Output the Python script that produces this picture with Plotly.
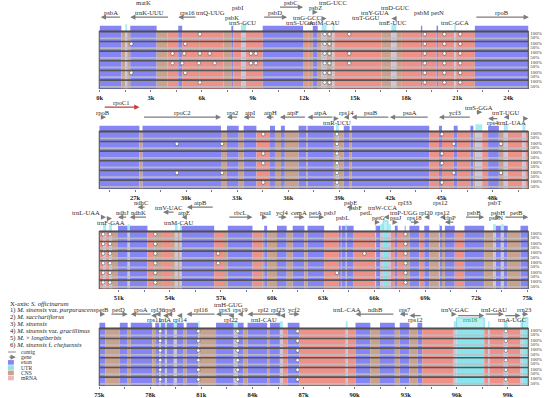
import plotly.graph_objects as go

W, H = 550, 398
FONT = "Liberation Serif, Times New Roman, serif"

# ---------------- data ----------------
panel_ranges = [(-0.03, 25.17), (24.9, 50.1), (49.85, 75.05), (75.0, 100.2)]

# region boundaries (kb) and region types: E exon, U UTR/rRNA, T CNS, S mRNA, G tRNA
p1_edges = [0.0, 1.27, 1.50, 1.61, 1.79, 3.34, 3.98, 4.61, 4.84, 5.71, 5.88, 7.27, 7.73, 7.84, 8.30, 8.59,
            9.57, 11.94, 12.11, 12.28, 12.51, 12.80, 13.03, 13.32, 13.67, 13.78, 16.55, 17.13, 17.42, 17.70,
            18.86, 18.94, 19.78, 19.87, 20.82, 20.93, 22.03, 25.20]
p1_types = ["E", "T", "G", "T", "E", "T", "S", "E", "S", "T", "S", "T", "E", "S", "G", "S", "E", "T", "S",
            "T", "E", "T", "G", "T", "G", "S", "T", "G", "T", "S", "E", "S", "E", "S", "G", "S", "E"]

p2_edges = [24.90, 27.26, 27.44, 32.05, 32.40, 33.09, 33.38, 34.13, 34.93, 35.22, 35.57, 35.80, 36.61, 37.07,
            37.13, 38.68, 38.80, 38.97, 39.26, 39.61, 39.72, 44.28, 44.85, 45.03, 45.72, 45.95, 46.70, 46.87,
            46.99, 47.39, 47.74, 48.37, 48.66, 48.89, 49.76, 49.93, 50.10]
p2_types = ["E", "T", "E", "T", "E", "T", "E", "S", "E", "T", "E", "T", "E", "T", "E", "T", "G", "T", "E",
            "T", "E", "S", "E", "S", "E", "S", "E", "T", "G", "S", "E", "T", "G", "S", "G", "S"]

p3_edges = [49.85, 50.08, 50.25, 50.43, 50.60, 50.95, 51.52, 51.64, 52.68, 53.08, 53.54, 54.12, 54.29, 54.46,
            54.58, 54.69, 56.60, 57.12, 57.40, 58.85, 59.42, 59.54, 59.71, 60.29, 60.86, 61.21, 61.90, 62.08,
            63.06, 63.92, 64.04, 64.09, 64.33, 64.38, 64.79, 66.06, 66.11, 66.34, 66.52, 66.81, 66.98, 67.21,
            67.38, 67.79, 67.84, 68.07, 68.65, 68.94, 69.23, 69.80, 69.86, 69.98, 70.15, 70.73, 71.30, 72.46,
            72.98, 73.15, 73.44, 73.61, 73.84, 74.59, 75.05]
p3_types = ["S", "G", "S", "G", "T", "E", "G", "E", "S", "T", "S", "T", "G", "T", "G", "E", "S", "T", "E",
            "S", "T", "E", "T", "E", "T", "E", "T", "E", "S", "E", "S", "E", "G", "E", "S", "G", "E", "G",
            "U", "G", "S", "E", "S", "E", "T", "E", "S", "E", "T", "G", "E", "T", "E", "S", "E", "T", "G",
            "E", "G", "E", "T", "E"]

p4_edges = [75.00, 75.35, 76.21, 76.67, 76.85, 78.11, 78.29, 78.52, 78.63, 78.86, 78.98, 79.38, 79.56, 79.96,
            80.13, 80.82, 80.88, 81.86, 82.90, 83.13, 83.48, 83.71, 84.86, 85.03, 85.61, 85.78, 86.07, 86.76,
            89.48, 89.59, 90.05, 90.92, 91.49, 92.36, 92.65, 93.22, 93.69, 93.97, 95.82, 95.99, 97.61, 97.84,
            97.92, 98.76, 98.99, 99.74, 99.86, 100.20]
p4_types = ["E", "T", "E", "T", "E", "T", "E", "G", "E", "G", "E", "G", "E", "T", "E", "G", "T", "E", "G",
            "E", "T", "E", "T", "E", "G", "S", "E", "S", "G", "S", "E", "T", "E", "T", "E", "T", "E", "S",
            "G", "U", "S", "G", "S", "G", "S", "G", "U"]

# genes: name, start kb, end kb, strand, label tier, label anchor
p1_genes = [
    ("psbA", 0.06, 1.27, -1, 2, "c"), ("matK", 1.79, 3.34, 0, 4, "c"), ("trnK-UUU", 1.79, 4.10, -1, 2, "c"),
    ("rps16", 4.61, 5.71, -1, 2, "c"), ("trnQ-UUG", 7.50, 7.61, -1, 2, "L"), ("psbK", 7.73, 7.84, 1, 1, "c"),
    ("psbI", 8.05, 8.15, 1, 3, "c"), ("trnS-GCU", 8.30, 8.42, -1, 0, "c"), ("psbD", 9.57, 11.00, 1, 2, "c"),
    ("psbC", 10.50, 11.94, 1, 4, "c"), ("trnS-UGA", 11.70, 11.80, -1, 0, "c"),
    ("trnG-GCC", 12.11, 12.20, 1, 1, "c"), ("psbZ", 12.51, 12.80, 1, 3, "c"),
    ("trnG-UCC", 13.67, 13.78, -1, 4, "c"), ("trnfM-CAU", 13.03, 13.32, 1, 0, "c"),
    ("trnT-GGU", 16.55, 16.62, 1, 1, "L"), ("trnY-GUA", 17.13, 17.25, -1, 2, "L"),
    ("trnD-GUC", 17.30, 17.42, -1, 3, "c"), ("trnE-UUC", 17.13, 17.30, -1, 0, "c"),
    ("psbM", 18.86, 18.94, 1, 2, "c"), ("petN", 19.78, 19.87, 1, 2, "c"),
    ("trnC-GCA", 20.82, 20.93, 1, 0, "c"), ("rpoB", 22.03, 25.20, 1, 2, "c"),
]
p2_genes = [
    ("rpoB", 24.90, 25.30, 1, 2, "c"), ("rpoC1", 25.13, 27.26, 1, 4, "c"), ("rpoC2", 27.44, 32.05, 1, 2, "c"),
    ("rps2", 32.40, 33.09, -1, 2, "c"), ("atpI", 33.38, 34.13, -1, 2, "c"), ("atpH", 34.70, 35.22, -1, 2, "c"),
    ("atpF", 35.51, 37.07, -1, 2, "c"), ("atpA", 37.13, 38.68, -1, 2, "c"),
    ("trnR-UCU", 38.80, 38.97, 1, 0, "c"), ("rps14", 39.26, 39.61, -1, 2, "c"),
    ("psaB", 39.72, 41.97, -1, 2, "c"), ("psaA", 41.97, 44.28, -1, 2, "c"), ("ycf3", 44.85, 46.76, -1, 2, "c"),
    ("trnS-GGA", 46.99, 47.39, 1, 3, "c"), ("rps4", 47.74, 48.37, -1, 0, "c"),
    ("trnT-UGU", 48.66, 48.89, -1, 2, "c"), ("trnL-UAA", 49.76, 50.10, 1, 0, "E"),
]
p3_genes = [
    ("trnL-UAA", 50.08, 50.25, 1, 2, "L"), ("trnF-GAA", 50.43, 50.60, 1, 0, "c"),
    ("ndhJ", 50.95, 51.52, -1, 2, "c"), ("ndhK", 51.64, 52.68, -1, 2, "c"), ("ndhC", 52.10, 52.60, -1, 4, "c"),
    ("trnV-UAC", 53.60, 54.30, -1, 3, "c"), ("atpE", 54.69, 55.00, -1, 2, "c"),
    ("trnM-CAU", 54.46, 54.58, 1, 0, "c"), ("atpB", 55.00, 56.60, -1, 4, "c"),
    ("rbcL", 57.40, 58.85, 1, 2, "c"), ("psaI", 59.54, 59.71, 1, 2, "c"), ("ycf4", 60.29, 60.86, 1, 2, "c"),
    ("cemA", 61.21, 61.90, 1, 2, "c"), ("petA", 62.08, 63.06, 1, 2, "c"), ("psbJ", 63.92, 64.04, -1, 2, "L"),
    ("psbL", 64.09, 64.20, -1, 1, "c"), ("psbF", 64.20, 64.33, -1, 3, "R"), ("psbE", 64.38, 64.79, -1, 4, "c"),
    ("petL", 66.06, 66.11, 1, 2, "L"), ("petG", 66.11, 66.34, 1, 1, "c"),
    ("trnW-CCA", 66.40, 66.52, -1, 3, "c"), ("trnP-UGG", 66.56, 66.75, -1, 2, "R"),
    ("psaJ", 67.21, 67.38, 1, 1, "c"), ("rpl33", 67.79, 67.84, 1, 4, "c"), ("rps18", 68.07, 68.65, 1, 1, "c"),
    ("rpl20", 68.94, 69.23, -1, 2, "c"), ("rps12", 69.86, 69.98, -1, 4, "c"), ("rps12", 69.86, 70.15, -1, 2, "c"),
    ("clpP", 70.15, 70.73, -1, 1, "c"), ("psbB", 71.30, 72.46, 1, 2, "c"), ("psbT", 72.98, 73.10, 1, 4, "c"),
    ("psbN", 73.10, 73.15, -1, 1, "c"), ("psbH", 73.15, 73.44, 1, 2, "c"), ("petB", 73.61, 75.05, 1, 2, "c"),
]
p4_genes = [
    ("petB", 75.00, 75.35, 1, 2, "c"), ("petD", 75.63, 76.67, 1, 2, "c"), ("rpoA", 76.85, 78.11, -1, 2, "c"),
    ("rps11", 78.05, 78.40, -1, 0, "c"), ("rpl36", 78.29, 78.69, -1, 2, "c"), ("infA", 78.75, 79.00, -1, 0, "c"),
    ("rps8", 78.98, 79.38, -1, 2, "c"), ("rpl14", 79.56, 79.96, -1, 0, "c"), ("rpl16", 80.13, 81.86, -1, 2, "c"),
    ("rps3", 81.86, 82.90, -1, 2, "c"), ("rpl22", 82.60, 82.90, -1, 0, "c"),
    ("trnH-GUG", 83.60, 83.70, 1, 3, "L"), ("rps19", 83.13, 83.48, -1, 2, "c"),
    ("rpl2", 83.71, 85.61, -1, 2, "c"), ("rpl23", 85.32, 85.73, -1, 2, "c"),
    ("trnI-CAU", 85.61, 85.78, -1, 0, "L"), ("ycf2", 86.07, 86.76, 1, 2, "c"),
    ("trnL-CAA", 89.48, 89.59, -1, 2, "c"), ("ndhB", 90.05, 92.36, -1, 2, "c"), ("rps7", 92.65, 93.22, -1, 2, "c"),
    ("rps12", 93.22, 93.97, -1, 0, "c"), ("trnV-GAC", 95.82, 95.99, 1, 2, "c"),
    ("rrn16", 95.99, 97.61, 1, 0, "c"), ("trnI-GAU", 97.61, 98.76, 1, 2, "c"),
    ("trnA-UGC", 98.76, 99.74, 1, 0, "c"), ("rrn23", 99.74, 100.20, 1, 2, "c"),
]

# conservation dips (kb) per track 1..6
p1_dips = [[5.88, 13.21, 13.49, 14.65, 19.09, 20.24, 21.17],
           [1.85, 5.02, 13.21, 13.49, 19.09, 20.24, 21.17],
           [4.27, 4.96, 5.88, 6.46, 8.88, 9.17, 13.21, 13.49, 14.65, 19.09, 20.24, 21.17],
           [4.27, 4.84, 5.82, 6.75, 8.88, 9.17, 13.21, 13.49, 14.65, 19.09, 20.24, 21.17],
           [1.85, 5.02, 13.21, 13.49, 19.09, 20.24, 21.17],
           [5.88, 13.21, 13.49, 19.09, 20.24, 21.17]]
p2_dips = [[34.53, 38.86, 45.03], [29.46, 32.11, 38.86, 45.72, 48.49], [34.53, 38.86, 45.03],
           [34.53, 38.86, 45.03], [29.46, 32.11, 38.86, 45.72, 48.49], [34.53, 38.86, 45.03]]
p3_dips = [[50.08, 50.48, 53.14, 67.84], [50.08, 50.48, 53.14, 67.84],
           [50.08, 50.48, 53.14, 56.83, 65.42, 67.84], [50.08, 50.48, 53.14, 56.83, 67.84],
           [50.08, 50.48, 53.14, 63.81, 67.84], [50.08, 50.48, 53.14, 67.84]]
p4_dips = [[78.58, 80.82, 83.13, 86.65, 98.88]] * 6

species = ["X-axis: <i>S. officinarum</i>",
           "1) <i>M. sinensis</i> var. <i>purpurascens</i>",
           "2) <i>M. sacchariflorus</i>",
           "3) <i>M. sinensis</i>",
           "4) <i>M. sinensis</i> var. <i>gracillimus</i>",
           "5) <i>M.</i> × <i>longiberbis</i>",
           "6) <i>M. sinensis</i> f. <i>chejuensis</i>"]
legend_keys = ["contig", "gene", "exon", "UTR", "CNS", "mRNA"]

all_edges = [p1_edges, p2_edges, p3_edges, p4_edges]
all_types = [p1_types, p2_types, p3_types, p4_types]
all_genes = [p1_genes, p2_genes, p3_genes, p4_genes]
all_dips = [p1_dips, p2_dips, p3_dips, p4_dips]

# ---------------- styling ----------------
COLORS = {"E": "#8585f3", "S": "#ee9189", "T": "#c9a18d", "G": "#cbc6d9", "U": "#8be4ec"}
LEGEND_COLORS = {"exon": "#8585f3", "UTR": "#8be4ec", "CNS": "#c9a18d", "mRNA": "#ebb8bb"}
X0, X1 = 96, 533
TRACK_TOP = [31, 131, 231, 328]
TRACK_PX = 58
UNIT = TRACK_PX / 6
Y_TOP = [-3.2, -3.2, -3.2, -2.6]
ROW_Y = [-0.85, -1.37, -1.89, -2.41, -2.93]

fig = go.Figure()
annotations = []
shapes = []
layout_axes = {}

for k in range(4):
    sfx = "" if k == 0 else str(k + 1)
    xa, ya = "x" + sfx, "y" + sfx
    lo, hi = panel_ranges[k]
    e, t = all_edges[k], all_types[k]
    starts, ends = e[:-1], e[1:]
    mids = [(a + b) / 2 for a, b in zip(starts, ends)]
    widths = [b - a for a, b in zip(starts, ends)]

    # conservation bands
    fig.add_trace(go.Bar(x=mids, y=[6] * len(mids), base=[0] * len(mids), width=widths,
                         marker=dict(color=[COLORS[c] for c in t], line=dict(width=0)),
                         xaxis=xa, yaxis=ya, showlegend=False, hoverinfo="skip"))

    # annotation row (exons, UTR, tRNA)
    ax_, ah, ab, aw, ac, alw = [], [], [], [], [], []
    for m, wdt, c in zip(mids, widths, t):
        if c == "E":
            ax_.append(m); ah.append(0.55); ab.append(-0.55); aw.append(wdt); ac.append(COLORS["E"]); alw.append(0)
        elif c == "U":
            ax_.append(m); ah.append(1.05); ab.append(-1.05); aw.append(wdt); ac.append("#b8f2f6"); alw.append(0.8)
        elif c == "G":
            ax_.append(m); ah.append(0.7); ab.append(-0.7); aw.append(max(wdt, 0.07)); ac.append("#a9ebf2"); alw.append(0)
    fig.add_trace(go.Bar(x=ax_, y=ah, base=ab, width=aw,
                         marker=dict(color=ac, line=dict(width=alw, color="#6fd3e0")),
                         xaxis=xa, yaxis=ya, showlegend=False, hoverinfo="skip"))

    # track separator (100%) lines and 50% bands
    lx, ly, gx, gy = [], [], [], []
    for i in range(6):
        lx += [lo, hi, None]; ly += [i + 0.08, i + 0.08, None]
        gx += [lo, hi, None]; gy += [i + 0.77, i + 0.77, None]
    fig.add_trace(go.Scatter(x=gx, y=gy, mode="lines", line=dict(color="rgba(190,190,195,0.85)", width=1.7),
                             xaxis=xa, yaxis=ya, showlegend=False, hoverinfo="skip"))
    fig.add_trace(go.Scatter(x=lx, y=ly, mode="lines", line=dict(color="#555555", width=1.6),
                             xaxis=xa, yaxis=ya, showlegend=False, hoverinfo="skip"))

    # dips
    dx, dy = [], []
    for i, lst in enumerate(all_dips[k]):
        dx += lst
        dy += [i + 0.33] * len(lst)
    fig.add_trace(go.Scatter(x=dx, y=dy, mode="markers",
                             marker=dict(symbol="circle", size=3.6, color="white",
                                         line=dict(color="#555555", width=0.6)),
                             xaxis=xa, yaxis=ya, showlegend=False, hoverinfo="skip"))

    # frame
    shapes.append(dict(type="rect", xref=xa + " domain", yref=ya, x0=0, x1=1, y0=0, y1=6,
                       line=dict(color="#4a4a4a", width=1), layer="above"))

    # genes
    for name, s, en, strand, row, anc in all_genes[k]:
        ty = ROW_Y[row]
        if anc == "c":
            tx, xanc = (s + en) / 2, "center"
        elif anc == "L":
            tx, xanc = s - 0.05, "right"
        elif anc == "R":
            tx, xanc = en + 0.05, "left"
        else:
            tx, xanc = en, "right"
        col = "#1f9a3d" if name == "rrn16" else "#2b2b2b"
        annotations.append(dict(x=tx, y=ty, xref=xa, yref=ya, text=name, showarrow=False,
                                xanchor=xanc, yanchor="middle",
                                font=dict(size=6.6, family=FONT, color=col)))
        if strand != 0:
            ay = ty + 0.46 if row > 0 else ty - 0.44
            head, tail = (en, s) if strand > 0 else (s, en)
            acol = "#c83c3c" if name == "rpoC1" else "#7c7c7c"
            annotations.append(dict(x=head, y=ay, ax=tail, ay=ay, xref=xa, yref=ya, axref=xa, ayref=ya,
                                    text="", showarrow=True, arrowhead=2, arrowsize=0.8, arrowwidth=1.3,
                                    arrowcolor=acol, standoff=0, startstandoff=0))

    top_px = TRACK_TOP[k] + Y_TOP[k] * UNIT
    bot_px = TRACK_TOP[k] + TRACK_PX
    tv, tt = [], []
    for i in range(6):
        tv += [i + 0.25, i + 0.68]
        tt += ["100%", "50%"]
    layout_axes["xaxis" + sfx] = dict(
        domain=[X0 / W, X1 / W], range=[lo, hi], anchor=ya, tickmode="linear", tick0=0, dtick=3,
        ticksuffix="k", ticks="outside", ticklen=2, tickwidth=0.8, tickcolor="#555",
        minor=dict(ticks="outside", ticklen=2, tick0=0, dtick=1.5, tickcolor="#555", tickwidth=0.8),
        tickfont=dict(size=6.5, family=FONT, color="#222", weight="bold"),
        showgrid=False, zeroline=False, showline=False, fixedrange=True)
    layout_axes["yaxis" + sfx] = dict(
        domain=[1 - bot_px / H, 1 - top_px / H], range=[6, Y_TOP[k]], anchor=xa, side="right",
        tickmode="array", tickvals=tv, ticktext=tt, ticks="",
        tickfont=dict(size=5, family=FONT, color="#333"), ticklabelstandoff=1,
        showgrid=False, zeroline=False, showline=False, fixedrange=True)

# legend block (bottom-left)
sp_y = [303, 310, 317, 323.5, 331, 338, 345]
for txt, yy in zip(species, sp_y):
    annotations.append(dict(x=3 / W, y=1 - yy / H, xref="paper", yref="paper", text=txt, showarrow=False,
                            xanchor="left", yanchor="middle", font=dict(size=6.6, family=FONT, color="#222")))
key_y = [352, 357.2, 362.4, 367.6, 372.8, 378]
for key, yy in zip(legend_keys, key_y):
    annotations.append(dict(x=14 / W, y=1 - yy / H, xref="paper", yref="paper", text=key, showarrow=False,
                            xanchor="left", yanchor="middle", font=dict(size=5.6, family=FONT, color="#333")))
    if key == "contig":
        shapes.append(dict(type="line", xref="paper", yref="paper", x0=3 / W, x1=11 / W,
                           y0=1 - yy / H, y1=1 - yy / H, line=dict(color="#8a8a8a", width=1)))
    elif key == "gene":
        annotations.append(dict(x=11 / W, y=1 - yy / H, xref="paper", yref="paper", ax=-8, ay=0, text="",
                                showarrow=True, arrowhead=2, arrowsize=0.8, arrowwidth=1.3,
                                arrowcolor="#7c7c7c", standoff=0))
    else:
        shapes.append(dict(type="rect", xref="paper", yref="paper", x0=3 / W, x1=9 / W,
                           y0=1 - (yy + 2.3) / H, y1=1 - (yy - 2.3) / H,
                           fillcolor=LEGEND_COLORS[key], line=dict(width=0)))

fig.update_layout(width=W, height=H, margin=dict(l=0, r=0, t=0, b=0), paper_bgcolor="white",
                  plot_bgcolor="white", barmode="overlay", showlegend=False,
                  annotations=annotations, shapes=shapes, **layout_axes)

fig.write_html("out.html", config={"displayModeBar": False, "staticPlot": True},
               post_script="document.body.style.margin='0px';document.body.style.overflow='hidden';")
